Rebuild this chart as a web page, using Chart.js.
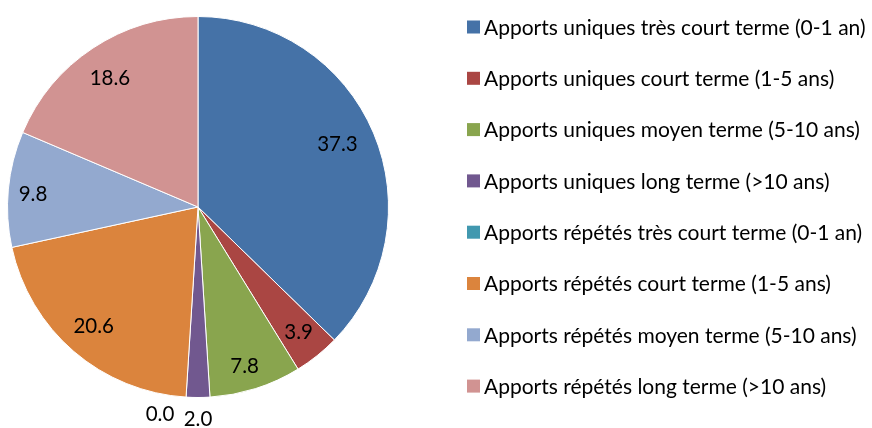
<!DOCTYPE html>
<html>
<head>
<meta charset="utf-8">
<script src="https://cdn.jsdelivr.net/npm/chart.js@4/dist/chart.umd.min.js"></script>
<style>
  html, body { margin: 0; padding: 0; background: #ffffff; }
  #wrap { width: 872px; height: 428px; position: relative; }
</style>
</head>
<body>
<div id="wrap"><canvas id="chart" width="872" height="428"></canvas></div>
<script>
// Répartition des apports par durée et type
const categories = [
  'Apports uniques très court terme (0-1 an)',
  'Apports uniques court terme (1-5 ans)',
  'Apports uniques moyen terme (5-10 ans)',
  'Apports uniques long terme (>10 ans)',
  'Apports répétés très court terme (0-1 an)',
  'Apports répétés court terme (1-5 ans)',
  'Apports répétés moyen terme (5-10 ans)',
  'Apports répétés long terme (>10 ans)'
];
const values = [37.3, 3.9, 7.8, 2.0, 0.0, 20.6, 9.8, 18.6];
const sliceColors = ['#4572A7', '#AA4643', '#89A54E', '#71588F', '#4198AF', '#DB843D', '#93A9CF', '#D19392'];

// label placement: fraction of radius along slice bisector, plus small nudges
const labelRadius = [0.80, 0.845, 0.86, 1.11, 1.09, 0.84, 0.87, 0.80];
const labelNudgeX = [-1, 0, -3, 0, -25, 0, 0, -4];
const labelNudgeY = [-3, 0, 3, 1, 0, -2, 3, -1];

const FONT = 'Lato, "Open Sans", sans-serif';

const sliceLabels = {
  id: 'sliceLabels',
  afterDatasetsDraw(chart) {
    const ctx = chart.ctx;
    const meta = chart.getDatasetMeta(0);
    ctx.save();
    ctx.font = '20.5px ' + FONT;
    ctx.fillStyle = '#000000';
    ctx.textAlign = 'center';
    ctx.textBaseline = 'middle';
    meta.data.forEach((arc, i) => {
      const p = arc.getProps(['x', 'y', 'startAngle', 'endAngle', 'outerRadius'], true);
      const mid = (p.startAngle + p.endAngle) / 2;
      const r = p.outerRadius * labelRadius[i];
      const x = p.x + Math.cos(mid) * r + labelNudgeX[i];
      const y = p.y + Math.sin(mid) * r + labelNudgeY[i];
      ctx.fillText(values[i].toFixed(1), x, y);
    });
    ctx.restore();
  }
};

const sideLegend = {
  id: 'sideLegend',
  afterDraw(chart) {
    const ctx = chart.ctx;
    ctx.save();
    ctx.font = '21px ' + FONT;
    ctx.textAlign = 'left';
    ctx.textBaseline = 'middle';
    const x0 = 467, y0 = 27, step = 51.3, box = 13;
    categories.forEach((name, i) => {
      const y = y0 + i * step;
      ctx.fillStyle = sliceColors[i];
      ctx.fillRect(x0, y - box / 2, box, box);
      ctx.fillStyle = '#000000';
      ctx.fillText(name, x0 + 17, y + 1);
    });
    ctx.restore();
  }
};

new Chart(document.getElementById('chart'), {
  type: 'pie',
  data: {
    labels: categories,
    datasets: [{
      data: values,
      backgroundColor: sliceColors,
      borderColor: '#ffffff',
      borderWidth: 1
    }]
  },
  options: {
    responsive: false,
    animation: false,
    layout: { padding: { left: 7, right: 483, top: 16, bottom: 30 } },
    plugins: {
      legend: { display: false },
      tooltip: { enabled: false }
    }
  },
  plugins: [sliceLabels, sideLegend]
});
</script>
</body>
</html>
